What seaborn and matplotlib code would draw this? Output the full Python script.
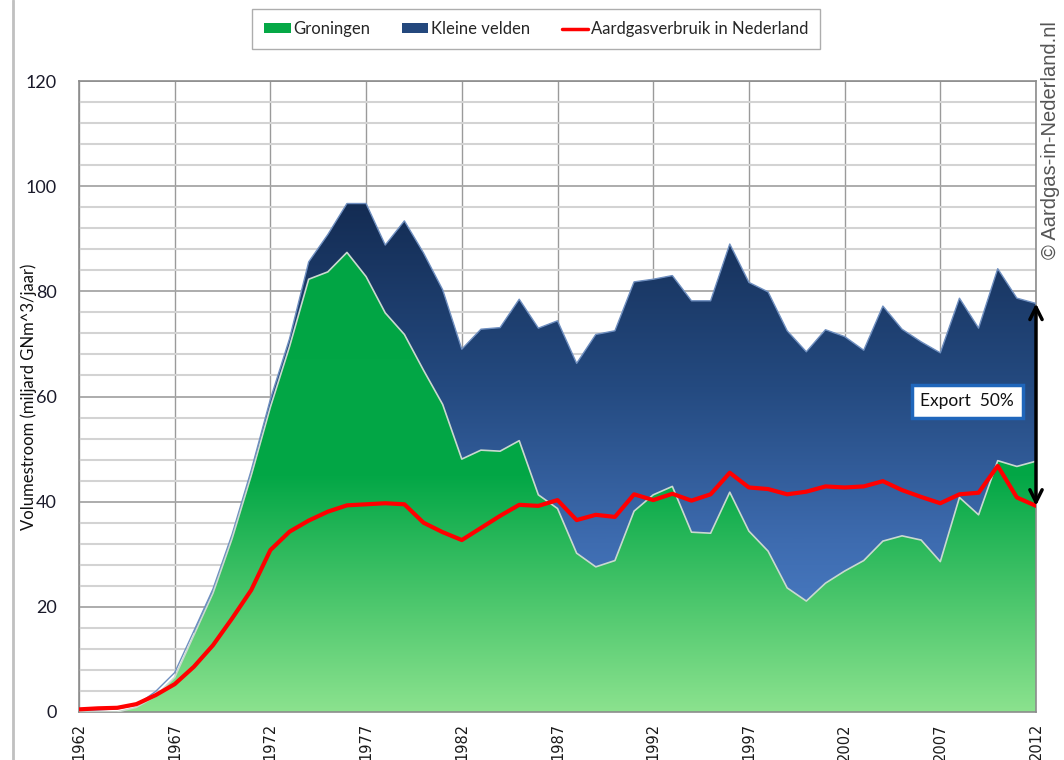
import numpy as np
import pandas as pd
import seaborn as sns
import matplotlib.pyplot as plt
from matplotlib.colors import LinearSegmentedColormap
from matplotlib.patches import Patch
from matplotlib.lines import Line2D

# -------------------------------------------------------------------
# Data (miljard GNm^3 per jaar)
# -------------------------------------------------------------------
years = list(range(1962, 2013))

groningen = [0.0, 0.0, 0.0, 0.9, 3.0, 6.6, 14.6, 22.6, 33.0, 45.0,
             58.0, 69.5, 82.3, 83.7, 87.4, 82.8, 75.9, 71.8, 65.0, 58.5,
             48.1, 49.8, 49.6, 51.6, 41.3, 38.7, 30.2, 27.6, 28.8, 38.2,
             41.3, 42.9, 34.2, 34.0, 41.8, 34.4, 30.6, 23.6, 21.1, 24.5,
             26.8, 28.8, 32.5, 33.5, 32.7, 28.6, 40.8, 37.5, 47.8, 46.7,
             47.7]

kleine_velden = [0.3, 0.4, 0.6, 0.4, 0.9, 0.9, 0.8, 0.8, 0.8, 1.0,
                 1.5, 1.5, 3.3, 7.1, 9.3, 13.9, 12.9, 21.6, 22.3, 21.8,
                 20.9, 23.0, 23.5, 26.9, 31.7, 35.7, 36.1, 44.2, 43.7, 43.6,
                 41.0, 40.1, 44.0, 44.2, 47.2, 47.3, 49.3, 48.9, 47.4, 48.2,
                 44.6, 40.0, 44.7, 39.3, 37.7, 39.7, 37.9, 35.5, 36.5, 32.0,
                 30.0]

verbruik = [0.5, 0.7, 0.8, 1.5, 3.2, 5.3, 8.6, 12.7, 17.8, 23.2,
            30.8, 34.3, 36.4, 38.1, 39.3, 39.5, 39.7, 39.5, 36.0, 34.2,
            32.7, 35.0, 37.3, 39.4, 39.2, 40.3, 36.5, 37.5, 37.1, 41.4,
            40.3, 41.5, 40.2, 41.4, 45.5, 42.7, 42.4, 41.4, 41.9, 42.9,
            42.7, 42.9, 43.9, 42.2, 40.9, 39.7, 41.4, 41.7, 46.8, 40.8,
            39.2]

df = pd.DataFrame({"jaar": years, "groningen": groningen,
                   "kleine": kleine_velden, "verbruik": verbruik})
df["totaal"] = df["groningen"] + df["kleine"]

# -------------------------------------------------------------------
# Style
# -------------------------------------------------------------------
sns.set_style("white")
plt.rcParams["font.family"] = ["Lato", "DejaVu Sans"]

fig = plt.figure(figsize=(10.64, 7.6), dpi=100)
ax = fig.add_axes([79 / 1064, 48 / 760, 957 / 1064, 631 / 760])

x = df["jaar"].to_numpy(dtype=float)

# areas: invisible polygons used as clip paths for gradient images
green_poly = ax.fill_between(x, 0, df["groningen"], facecolor="none",
                             edgecolor="none", zorder=2)
blue_poly = ax.fill_between(x, df["groningen"], df["totaal"], facecolor="none",
                            edgecolor="none", zorder=2)

# green gradient: light at the bottom, saturated from ~45 upwards
green_cmap = LinearSegmentedColormap.from_list(
    "gr", [(0.0, "#8be28e"), (0.4, "#03a746"), (1.0, "#00a443")])
grad = np.linspace(0, 1, 256).reshape(-1, 1)
im_g = ax.imshow(grad, cmap=green_cmap, extent=[1962, 2012, 0, 112],
                 origin="lower", aspect="auto", zorder=2,
                 interpolation="bilinear")
im_g.set_clip_path(green_poly.get_paths()[0], transform=ax.transData)

blue_cmap = LinearSegmentedColormap.from_list(
    "bl", [(0.0, "#4a7cc4"), (0.2, "#3e6cb0"), (0.55, "#244a80"),
           (1.0, "#12294f")])
im_b = ax.imshow(grad, cmap=blue_cmap, extent=[1962, 2012, 15, 100],
                 origin="lower", aspect="auto", zorder=2,
                 interpolation="bilinear")
im_b.set_clip_path(blue_poly.get_paths()[0], transform=ax.transData)

# thin light edges of the areas
sns.lineplot(data=df, x="jaar", y="totaal", ax=ax, color="#6f8fc0",
             linewidth=1.0, zorder=3, legend=False)
sns.lineplot(data=df, x="jaar", y="groningen", ax=ax, color="#c9d9cf",
             linewidth=1.2, zorder=3, legend=False)

# consumption line
sns.lineplot(data=df, x="jaar", y="verbruik", ax=ax, color="#ff0000",
             linewidth=3, zorder=4, legend=False)

# -------------------------------------------------------------------
# Axes, grid
# -------------------------------------------------------------------
ax.set_xlim(1962, 2012)
ax.set_ylim(0, 120)
ax.set_xticks(range(1962, 2013, 5))
ax.set_yticks(range(0, 121, 20))
ax.set_yticks(np.arange(0, 121, 4), minor=True)
ax.set_axisbelow(True)
ax.grid(axis="y", which="minor", color="#d3d3d3", linewidth=1.5)
ax.grid(axis="y", which="major", color="#a6a6a6", linewidth=1.3)
ax.grid(axis="x", which="major", color="#9a9a9a", linewidth=1.0)

for s in ax.spines.values():
    s.set_color("#8c8c8c")
    s.set_linewidth(1.2)

ax.tick_params(axis="x", which="major", direction="out", length=5,
               color="#8c8c8c", labelsize=10.5, labelcolor="#1a1a1a",
               labelrotation=90, pad=3)
ax.tick_params(axis="y", which="both", length=0, labelsize=13,
               labelcolor="#1a1a2a", pad=16)
for lbl in ax.get_xticklabels():
    lbl.set_fontfamily("DejaVu Sans")

ax.set_xlabel("")
ax.set_ylabel("Volumestroom (miljard GNm^3/jaar)", fontsize=12,
              color="#111111")
ax.yaxis.set_label_coords(-0.044, 0.5)

# -------------------------------------------------------------------
# Export annotation
# -------------------------------------------------------------------
ax.annotate("", xy=(2012, df["totaal"].iloc[-1]),
            xytext=(2012, df["verbruik"].iloc[-1]),
            arrowprops=dict(arrowstyle="<->", color="black", lw=2.5,
                            mutation_scale=22, shrinkA=0, shrinkB=0),
            annotation_clip=False, zorder=6)
ax.text(2008.4, 59.1, "Export  50%", ha="center", va="center",
        fontsize=12.5, color="#111111", zorder=6,
        bbox=dict(boxstyle="square,pad=0.5", facecolor="white",
                  edgecolor="#1f66bb", linewidth=2.5))

# -------------------------------------------------------------------
# Legend, watermark, chart border
# -------------------------------------------------------------------
handles = [
    Patch(facecolor="#05a846", edgecolor="none", label="Groningen"),
    Patch(facecolor="#24487d", edgecolor="none", label="Kleine velden"),
    Line2D([0], [0], color="#ff0000", lw=2.5, label="Aardgasverbruik in Nederland"),
]
leg = fig.legend(handles=handles, loc="center", ncol=3,
                 bbox_to_anchor=(536 / 1064, 1 - 29 / 760),
                 frameon=True, fancybox=False, fontsize=12,
                 handlelength=1.6, handleheight=0.55, handletextpad=0.15,
                 columnspacing=1.9, borderpad=0.7)
leg.get_frame().set_edgecolor("#999999")
leg.get_frame().set_linewidth(1.0)

fig.text(1050 / 1064, 1 - 140 / 760, "\u00a9 Aardgas-in-Nederland.nl",
         rotation=90, ha="center", va="center", fontsize=14.5,
         color="#555555", family="Liberation Sans")

fig.add_artist(Line2D([13 / 1064, 13 / 1064], [0, 1], color="#c0c0c0", lw=2))

fig.savefig("out.png", dpi=100)
